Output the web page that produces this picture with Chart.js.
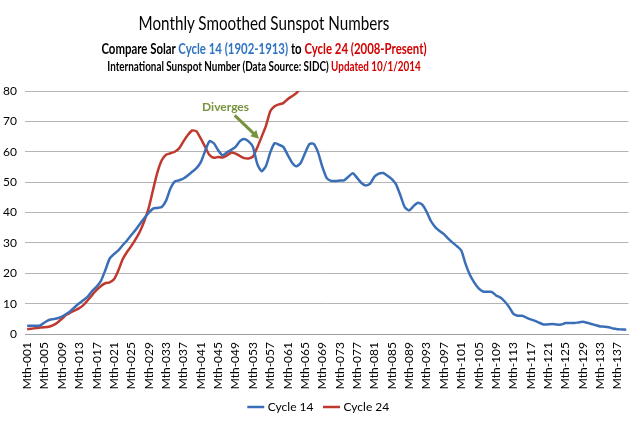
<!DOCTYPE html>
<html>
<head>
<meta charset="utf-8">
<script src="https://cdn.jsdelivr.net/npm/chart.js@4"></script>
<style>
  html, body { margin: 0; padding: 0; background: #fff; }
  #wrap { position: relative; width: 640px; height: 427px; }
  .t { position: absolute; left: 0; width: 528px; text-align: center; font-family: Lato, 'Open Sans', sans-serif; color: #000; white-space: nowrap; }
  #t1 { top: 11px; font-size: 19px; transform: scaleX(0.8); }
  #t2 { top: 39px; font-size: 15px; font-weight: bold; transform: scaleX(0.76); }
  #t3 { top: 59px; font-size: 12.5px; font-weight: bold; transform: scaleX(0.79); }
  .blue { color: #2f74c0; }
  .red { color: #d40000; }
</style>
</head>
<body>
<div id="wrap">
  <canvas id="c" width="640" height="427"></canvas>
  <div class="t" id="t1">Monthly Smoothed Sunspot Numbers</div>
  <div class="t" id="t2">Compare Solar <span class="blue">Cycle 14 (1902-1913)</span> to <span class="red">Cycle 24 (2008-Present)</span></div>
  <div class="t" id="t3">International Sunspot Number (Data Source: SIDC) <span class="red">Updated 10/1/2014</span></div>
</div>
<script>
// months since cycle minimum
const months = [];
for (let i = 1; i <= 139; i++) months.push('Mth-' + String(i).padStart(3, '0'));

// smoothed sunspot numbers
const cycle14 = [
  2.7, 2.7, 2.7, 2.8, 3.8, 4.6, 4.9, 5.2, 5.7, 6.6,
  7.6, 8.9, 10.1, 11.2, 12.4, 14.2, 15.6, 17.5, 21.0, 24.8,
  26.3, 27.5, 29.2, 30.8, 32.6, 34.3, 36.3, 38.2, 39.9, 41.3,
  41.5, 41.8, 43.9, 47.9, 50.2, 50.6, 51.2, 52.2, 53.4, 54.6,
  56.6, 60.3, 63.5, 62.8, 60.5, 58.8, 59.8, 60.6, 61.6, 63.5,
  64.2, 63.4, 61.6, 56.0, 53.6, 55.3, 59.8, 62.8, 62.3, 61.6,
  59.0, 56.5, 55.2, 56.3, 59.5, 62.5, 62.6, 59.8, 55.0, 51.3,
  50.4, 50.4, 50.5, 50.6, 51.8, 52.9, 51.4, 49.7, 48.9, 49.5,
  51.8, 52.8, 53.0, 52.1, 51.0, 49.2, 45.5, 41.7, 40.7, 42.1,
  43.2, 42.6, 40.3, 37.2, 35.2, 33.9, 32.9, 31.4, 30.1, 28.9,
  27.5, 23.0, 19.4, 16.9, 15.0, 14.0, 13.9, 13.9, 12.7, 12.0,
  10.7, 8.9, 6.6, 6.0, 6.0, 5.4, 4.8, 4.3, 3.7, 3.1,
  3.2, 3.3, 3.1, 3.1, 3.6, 3.6, 3.6, 3.8, 4.0, 3.7,
  3.3, 2.9, 2.5, 2.4, 2.2, 1.8, 1.6, 1.5, 1.4
];
const cycle24 = [
  1.6, 1.7, 2.0, 2.1, 2.2, 2.4, 2.9, 3.8, 5.0, 6.3,
  7.1, 7.8, 8.5, 9.6, 11.2, 12.9, 14.5, 15.8, 16.7, 17.0,
  18.0, 20.9, 24.6, 27.0, 29.0, 31.2, 33.8, 37.3, 41.5, 47.5,
  53.2, 57.2, 59.0, 59.5, 60.0, 61.1, 63.4, 65.5, 67.0, 66.7,
  64.3, 61.6, 58.9, 58.0, 58.3, 58.1, 58.8, 59.7, 59.4, 58.6,
  57.9, 57.8, 58.4, 61.4, 64.9, 68.5, 73.3, 75.0, 75.6, 76.0,
  77.3, 78.3, 79.3, 81.0
];

const yTicks = [0, 10, 20, 30, 40, 50, 60, 70, 80];

// "Diverges" note, in data units (month index, sunspot number)
const noteText = { x: 45.7, y: 74.7 };
const noteArrow = { fromX: 47.8, fromY: 72.0, toX: 53.4, toY: 64.3 };

const notePlugin = {
  id: 'note',
  afterDatasetsDraw(chart) {
    const { ctx, scales: { x, y } } = chart;
    ctx.save();
    ctx.fillStyle = '#77933c';
    ctx.font = 'bold 12px Lato, sans-serif';
    ctx.textAlign = 'center';
    ctx.textBaseline = 'middle';
    ctx.fillText('Diverges', x.getPixelForValue(noteText.x), y.getPixelForValue(noteText.y));

    const x1 = x.getPixelForValue(noteArrow.fromX), y1 = y.getPixelForValue(noteArrow.fromY);
    const x2 = x.getPixelForValue(noteArrow.toX), y2 = y.getPixelForValue(noteArrow.toY);
    const a = Math.atan2(y2 - y1, x2 - x1);
    const head = 9;
    ctx.strokeStyle = '#77933c';
    ctx.lineWidth = 3;
    ctx.beginPath();
    ctx.moveTo(x1, y1);
    ctx.lineTo(x2 - Math.cos(a) * head * 0.8, y2 - Math.sin(a) * head * 0.8);
    ctx.stroke();
    ctx.beginPath();
    ctx.moveTo(x2, y2);
    ctx.lineTo(x2 - head * Math.cos(a - 0.5), y2 - head * Math.sin(a - 0.5));
    ctx.lineTo(x2 - head * Math.cos(a + 0.5), y2 - head * Math.sin(a + 0.5));
    ctx.closePath();
    ctx.fill();
    ctx.restore();
  }
};

new Chart(document.getElementById('c'), {
  type: 'line',
  data: {
    labels: months,
    datasets: [
      { label: 'Cycle 14', data: cycle14, borderColor: '#3a6fb7', backgroundColor: '#3a6fb7', borderWidth: 2.5, pointRadius: 0, tension: 0.2 },
      { label: 'Cycle 24', data: cycle24, borderColor: '#c0392f', backgroundColor: '#c0392f', borderWidth: 2.5, pointRadius: 0, tension: 0.2 }
    ]
  },
  options: {
    responsive: false,
    animation: false,
    layout: { padding: { top: 91, right: 1, bottom: 4, left: 0 } },
    plugins: {
      legend: {
        position: 'bottom',
        labels: {
          usePointStyle: true, pointStyle: 'line', boxWidth: 22, padding: 12,
          color: '#000', font: { family: 'Lato, sans-serif', size: 12 }
        }
      },
      tooltip: { enabled: false }
    },
    scales: {
      x: {
        offset: true,
        grid: { display: false, drawTicks: false },
        border: { color: '#a0a0a0', width: 1 },
        afterFit(s) { s.height = 55; },
        ticks: {
          autoSkip: false, minRotation: 90, maxRotation: 90, padding: 8,
          color: '#000', font: { family: 'Lato, sans-serif', size: 12 },
          callback(v, i) { return i % 4 === 0 ? months[i] : null; }
        }
      },
      y: {
        min: 0, max: 80,
        grid: { color: '#b4b4b4', lineWidth: 1, drawTicks: false },
        border: { display: false },
        afterFit(s) { s.width = 25; },
        afterBuildTicks(s) { s.ticks = yTicks.map(v => ({ value: v })); },
        ticks: { padding: 8, color: '#000', font: { family: 'Lato, sans-serif', size: 12 } }
      }
    }
  },
  plugins: [notePlugin]
});
</script>
</body>
</html>
